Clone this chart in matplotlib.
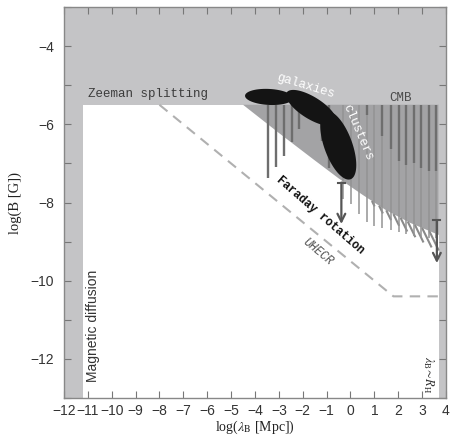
import numpy as np
import matplotlib.pyplot as plt
from matplotlib.patches import Polygon

# excluded regions (light gray)
zeeman_y = -5.5
diffusion_x = -11.2
hubble_x = 3.7

# Faraday rotation limit (lower edge of the darker region)
faraday_x = [-4.5, -3.0, -1.5, -0.5, 0.5, 1.5, 2.5, 3.7]
faraday_y = [-5.5, -6.22, -6.92, -7.38, -7.8, -8.2, -8.52, -8.83]

# hatch strokes under the Faraday limit: start x and drop in log(B)
hatch_x = [0.9, 1.2, 1.5, 1.8, 2.1, 2.4, 2.7, 3.0, 3.3]
hatch_drop = [0.14, 0.2, 0.25, 0.3, 0.35, 0.4, 0.45, 0.5, 0.5]

# UHECR limit
uhecr_x = [-8.0, 1.8, 3.7]
uhecr_y = [-5.5, -10.4, -10.4]

# CMB / Faraday limits as vertical bars hanging from the Zeeman line
light_x = [-0.3, 0.04, 0.37, 0.71, 1.0, 1.34, 1.68, 2.02, 2.31, 2.65, 2.94, 3.28, 3.58]
light_bot = [-7.9, -8.05, -8.3, -8.5, -8.6, -8.65, -8.7, -8.75, -8.8, -8.85, -8.9, -8.9, -8.9]
dark_x = [-3.44, -3.11, -2.78, -2.45, -2.15, -1.18, -0.89, 0.71, 1.34, 1.68, 2.02, 2.31,
          2.65, 2.94, 3.28, 3.58]
dark_bot = [-7.38, -7.1, -6.8, -6.46, -6.12, -6.42, -7.13, -5.75, -6.29, -6.62, -6.93, -7.05,
            -7.0, -7.13, -7.2, -7.2]

# upper limits (arrows)
arrow_x = [-0.38, 3.62]
arrow_top = [-7.49, -8.45]
arrow_tip = [-8.55, -9.55]

# black blobs: galaxies and clusters (centre in data, half axes in pixels, angle)
blob_cx = [-3.41, -1.64, -0.51]
blob_cy = [-5.30, -5.58, -6.54]
blob_a = [24, 29, 36]
blob_b = [8, 11, 14]
blob_ang = [-3, -32, -70]

light_grey = '#c4c4c6'
mid_grey = '#a3a3a5'

plt.rcParams['mathtext.fontset'] = 'stix'

fig = plt.figure(figsize=(4.5, 4.38), dpi=100)
ax = fig.add_axes([0.142, 0.0913, 0.849, 0.8927])
ax.set_xlim(-12, 4)
ax.set_ylim(-13, -3)

# excluded regions
ax.axhspan(zeeman_y, -3, color=light_grey, lw=0, zorder=1)
ax.axvspan(-12, diffusion_x, color=light_grey, lw=0, zorder=1)
ax.axvspan(hubble_x, 4, color=light_grey, lw=0, zorder=1)

# Faraday region
fx = faraday_x + [hubble_x]
fy = faraday_y + [zeeman_y]
ax.add_patch(Polygon(np.column_stack([fx, fy]), closed=True, color=mid_grey, lw=0, zorder=1.5))

# hatch strokes, slanting down to the right
for hx, hd in zip(hatch_x, hatch_drop):
    y0 = np.interp(hx, faraday_x, faraday_y)
    ax.plot([hx, hx + 0.8 * hd], [y0, y0 - hd], color='#8a8a8a', lw=1.5,
            solid_capstyle='butt', zorder=1.6)

# UHECR
ax.plot(uhecr_x, uhecr_y, color='#b0b0b0', lw=1.5, dashes=(5, 3.5), zorder=2)

# vertical bars
ax.vlines(light_x, light_bot, zeeman_y, color='#939393', lw=1.1, zorder=3)
ax.vlines(dark_x, dark_bot, zeeman_y, color='#6e6e6e', lw=1.7, zorder=3.2)

# arrows
for x0, y0, y1 in zip(arrow_x, arrow_top, arrow_tip):
    ax.plot([x0 - 0.15, x0 + 0.15], [y0, y0], color='#555555', lw=1.5, zorder=4)
    ax.annotate('', xy=(x0, y1), xytext=(x0, y0),
                arrowprops=dict(arrowstyle='->', color='#555555', lw=1.6,
                                mutation_scale=14, shrinkA=0, shrinkB=0), zorder=4)

# black blobs, drawn in pixel space so the rotation is not squashed
t = np.linspace(0, 2 * np.pi, 120)
for cx, cy, a, b, ang in zip(blob_cx, blob_cy, blob_a, blob_b, blob_ang):
    th = np.deg2rad(ang)
    ex, ey = a * np.cos(t), b * np.sin(t)
    px = ex * np.cos(th) - ey * np.sin(th)
    py = ex * np.sin(th) + ey * np.cos(th)
    c = ax.transData.transform((cx, cy))
    pts = ax.transData.inverted().transform(np.column_stack([c[0] + px, c[1] + py]))
    ax.add_patch(Polygon(pts, closed=True, color='#141414', lw=0, zorder=5))

# labels
mono = 'Liberation Mono'
ax.text(-11.0, -5.22, 'Zeeman splitting', family=mono, fontsize=9, color='#3c3c3c',
        ha='left', va='center', zorder=6)
ax.text(2.1, -5.32, 'CMB', family=mono, fontsize=9, color='#4a4a4a',
        ha='center', va='center', zorder=6)
ax.text(-1.89, -5.02, 'galaxies', family=mono, fontsize=9, color='white',
        rotation=-17, ha='center', va='center', zorder=6)
ax.text(0.29, -6.21, 'clusters', family=mono, fontsize=9, color='white',
        rotation=-67, ha='center', va='center', zorder=6)
ax.text(-1.26, -8.33, 'Faraday rotation', family=mono, fontsize=8.5, fontweight='bold',
        color='#111111', rotation=-41, ha='center', va='center', zorder=6)
ax.text(-1.35, -9.27, 'UHECR', family=mono, fontsize=8.5, style='italic', color='#555555',
        rotation=-40, ha='center', va='center', zorder=6)
ax.text(-10.8, -11.15, 'Magnetic diffusion', family='Liberation Sans', fontsize=10,
        color='#333333', rotation=90, ha='center', va='center', zorder=6)
ax.text(3.27, -12.4, r'$\lambda_{\rm B}\!\sim\! R_{\rm H}$', fontsize=9, color='#333333',
        rotation=-90, ha='center', va='center', zorder=6)

ax.set_xlabel(r'log($\lambda_{\rm B}$ [Mpc])', family='Liberation Serif', fontsize=10,
              color='#222222', labelpad=1)
ax.set_ylabel('log(B [G])', family='Liberation Serif', fontsize=10.5, color='#222222',
              labelpad=6)

# ticks
ax.set_xticks(np.arange(-12, 5, 1))
ax.set_xticklabels([f'\u2212{abs(v)}' if v < 0 else str(v) for v in range(-12, 5)])
ax.set_yticks(np.arange(-12, -3, 2))
ax.set_yticklabels([f'\u2212{abs(v)}' for v in range(-12, -3, 2)])
ax.set_yticks(np.arange(-13, -2, 1), minor=True)
ax.tick_params(which='both', direction='in', top=True, right=True, length=5,
               color='#777777', width=0.8)
ax.tick_params(axis='x', pad=4)
ax.tick_params(axis='y', pad=7)
for lab in ax.get_xticklabels() + ax.get_yticklabels():
    lab.set_family('Liberation Sans')
    lab.set_fontsize(10)
    lab.set_color('#333333')
for s in ax.spines.values():
    s.set_color('#888888')
    s.set_linewidth(1.0)

fig.savefig('out.png', dpi=100)
